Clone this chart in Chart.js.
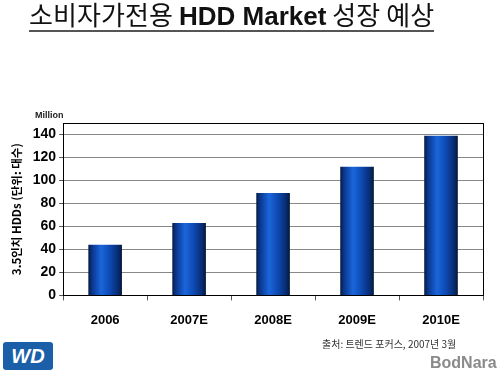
<!DOCTYPE html>
<html><head><meta charset="utf-8">
<script src="https://cdn.jsdelivr.net/npm/chart.js@4/dist/chart.umd.min.js"></script>
<style>
html,body{margin:0;padding:0;background:#fff;width:500px;height:376px;overflow:hidden;font-family:Arial,"Liberation Sans","Noto Sans CJK KR",sans-serif}
#wrap{position:absolute;left:0;top:0;width:500px;height:376px}
#title{position:absolute;left:29px;top:0px;font-size:26px;color:#111;white-space:nowrap;border-bottom:2px solid #555;line-height:28px;font-family:"Noto Sans CJK KR",Arial,sans-serif;letter-spacing:0.1px}
#title b{font-family:Arial,"Liberation Sans",sans-serif;font-weight:bold;letter-spacing:0}
#million{position:absolute;left:35px;top:110px;font-size:9px;font-weight:bold;color:#222}
#src{position:absolute;left:322px;top:336px;font-size:10px;color:#333;font-family:"Noto Sans CJK KR",sans-serif}
#wd{position:absolute;left:3px;top:342px;width:50px;height:28px;background:#1a5fa8;border-radius:3px;color:#fff;font:italic bold 20px Arial,sans-serif;text-align:center;line-height:28px}
#bod{position:absolute;left:430px;top:354px;font:bold 16px Arial,sans-serif;color:#8a8a8a}
</style></head><body>
<div id="wrap"><canvas id="c" width="500" height="376"></canvas></div>
<div id="title">소비자가전용 <b>HDD Market</b> 성장 예상</div>
<div id="million">Million</div>
<div id="src">출처: 트렌드 포커스, 2007년 3월</div>
<div id="wd">WD</div>
<div id="bod">BodNara</div>
<script>
const categories = ["2006", "2007E", "2008E", "2009E", "2010E"];
const shipments = [44, 63, 89, 112, 139];
const yTicks = [0, 20, 40, 60, 80, 100, 120, 140];
const yTitle = "3.5인치 HDDs (단위: 대수)";
const BAR_PCT = 0.4;

const frame = {
  id: 'frame',
  afterDatasetsDraw(chart) {
    const {ctx, chartArea: a} = chart;
    ctx.save();
    ctx.strokeStyle = '#000';
    ctx.lineWidth = 1;
    ctx.strokeRect(Math.round(a.left) + 0.5, Math.round(a.top) + 0.5, Math.round(a.right - a.left), Math.round(a.bottom - a.top));
    ctx.restore();
  }
};

function barFill(ctx) {
  const chart = ctx.chart;
  const xs = chart.scales && chart.scales.x;
  if (!xs || !chart.chartArea || ctx.dataIndex === undefined) return '#1050b0';
  const cx = xs.getPixelForValue(ctx.dataIndex);
  const w = (xs.width / categories.length) * BAR_PCT;
  const x0 = cx - w / 2, x1 = cx + w / 2;
  const g = chart.ctx.createLinearGradient(x0, 0, x1, 0);
  g.addColorStop(0, '#06193f');
  g.addColorStop(0.1, '#0a3488');
  g.addColorStop(0.38, '#1a66dc');
  g.addColorStop(0.65, '#0e48b0');
  g.addColorStop(0.9, '#072a6c');
  g.addColorStop(1, '#041636');
  return g;
}

new Chart(document.getElementById('c'), {
  type: 'bar',
  data: {
    labels: categories,
    datasets: [{
      data: shipments,
      backgroundColor: barFill,
      borderWidth: 0,
      barPercentage: BAR_PCT,
      categoryPercentage: 1.0
    }]
  },
  plugins: [frame],
  options: {
    responsive: false,
    animation: false,
    devicePixelRatio: 1,
    layout: {padding: {left: 10, right: 17, top: 123, bottom: 36}},
    plugins: {legend: {display: false}, tooltip: {enabled: false}, title: {display: false}},
    scales: {
      x: {
        grid: {offset: true, drawOnChartArea: false, drawTicks: true, tickLength: 5, color: '#555'},
        border: {display: true, color: '#000', width: 1},
        ticks: {color: '#000', font: {family: 'Arial', size: 13, weight: 'bold'}, padding: 12}
      },
      y: {
        min: 0,
        max: 150,
        afterBuildTicks(axis) { axis.ticks = yTicks.map(v => ({value: v})); },
        grid: {color: '#888', lineWidth: 1, drawTicks: true, tickLength: 4, tickColor: '#555'},
        border: {display: true, color: '#000', width: 1},
        ticks: {color: '#000', font: {family: 'Arial', size: 14, weight: 'bold'}, padding: 3},
        title: {display: true, text: yTitle, color: '#000', font: {family: '"Noto Sans CJK KR", Arial', size: 11.5, weight: 'bold'}, padding: {top: 0, bottom: 6}}
      }
    }
  }
});
</script>
</body></html>
